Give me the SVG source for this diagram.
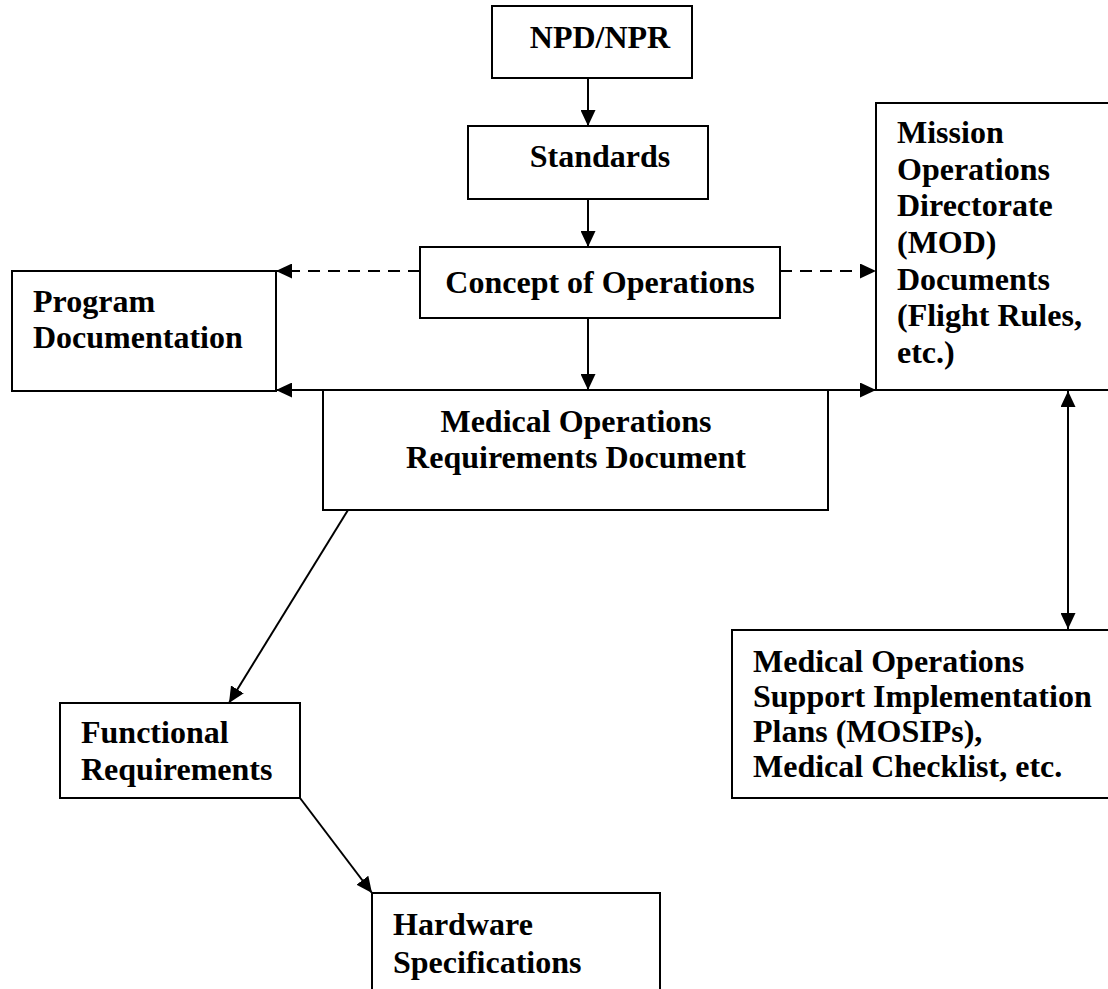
<svg xmlns="http://www.w3.org/2000/svg" width="1108" height="989" viewBox="0 0 1108 989">
<style>
.box{fill:#fff;stroke:#000;stroke-width:2}
.t{font-family:"Liberation Serif","Times New Roman",serif;font-weight:bold;font-size:32px;fill:#000}
.c{text-anchor:middle}
.ln{stroke:#000;stroke-width:2;fill:none}
.d{stroke-dasharray:12 8}
</style>
<defs>
<marker id="ah" markerUnits="userSpaceOnUse" markerWidth="16" markerHeight="15" refX="16" refY="7.5" orient="auto-start-reverse" viewBox="0 0 16 15">
<path d="M0,0 L16,7.5 L0,15 z" fill="#000"/>
</marker>
</defs>
<rect width="1108" height="989" fill="#fff"/>
<g id="npd"><rect class="box" x="492" y="6" width="200" height="72"/><text class="t c" x="600" y="48">NPD/NPR</text></g>
<g id="standards"><rect class="box" x="468" y="126" width="240" height="73"/><text class="t c" x="600" y="167">Standards</text></g>
<g id="conops"><rect class="box" x="420" y="247" width="360" height="71"/><text class="t c" x="600" y="293">Concept of Operations</text></g>
<g id="progdoc"><rect class="box" x="12" y="271" width="264" height="120"/><text class="t" x="33" y="312">Program</text><text class="t" x="33" y="348">Documentation</text></g>
<g id="mod"><rect class="box" x="876" y="103" width="250" height="287"/><text class="t" x="897"><tspan x="897" y="143">Mission</tspan><tspan x="897" y="179.5">Operations</tspan><tspan x="897" y="216">Directorate</tspan><tspan x="897" y="253">(MOD)</tspan><tspan x="897" y="289.5">Documents</tspan><tspan x="897" y="326">(Flight Rules,</tspan><tspan x="897" y="363">etc.)</tspan></text></g>
<g id="mord"><rect class="box" x="323" y="390" width="505" height="120"/><text class="t c" x="576" y="432">Medical Operations</text><text class="t c" x="576" y="468">Requirements Document</text></g>
<g id="mosip"><rect class="box" x="732" y="630" width="400" height="168"/><text class="t"><tspan x="753" y="672">Medical Operations</tspan><tspan x="753" y="707">Support Implementation</tspan><tspan x="753" y="742">Plans (MOSIPs),</tspan><tspan x="753" y="777">Medical Checklist, etc.</tspan></text></g>
<g id="funcreq"><rect class="box" x="60" y="703" width="240" height="95"/><text class="t" x="81" y="743">Functional</text><text class="t" x="81" y="780">Requirements</text></g>
<g id="hwspec"><rect class="box" x="372" y="893" width="288" height="120"/><text class="t" x="393" y="935">Hardware</text><text class="t" x="393" y="973">Specifications</text></g>
<g id="connectors">
<line class="ln" x1="588" y1="78" x2="588" y2="126" marker-end="url(#ah)"/>
<line class="ln" x1="588" y1="199" x2="588" y2="247" marker-end="url(#ah)"/>
<line class="ln" x1="588" y1="318" x2="588" y2="390" marker-end="url(#ah)"/>
<line class="ln d" x1="420" y1="271" x2="276" y2="271" marker-end="url(#ah)"/>
<line class="ln d" x1="780" y1="271" x2="876" y2="271" marker-end="url(#ah)"/>
<line class="ln" x1="276" y1="390" x2="876" y2="390" marker-start="url(#ah)" marker-end="url(#ah)"/>
<line class="ln" x1="1068" y1="391" x2="1068" y2="629" marker-start="url(#ah)" marker-end="url(#ah)"/>
<line class="ln" x1="348" y1="510" x2="229" y2="703" marker-end="url(#ah)"/>
<line class="ln" x1="300" y1="798" x2="372" y2="893" marker-end="url(#ah)"/>
</g>
</svg>
